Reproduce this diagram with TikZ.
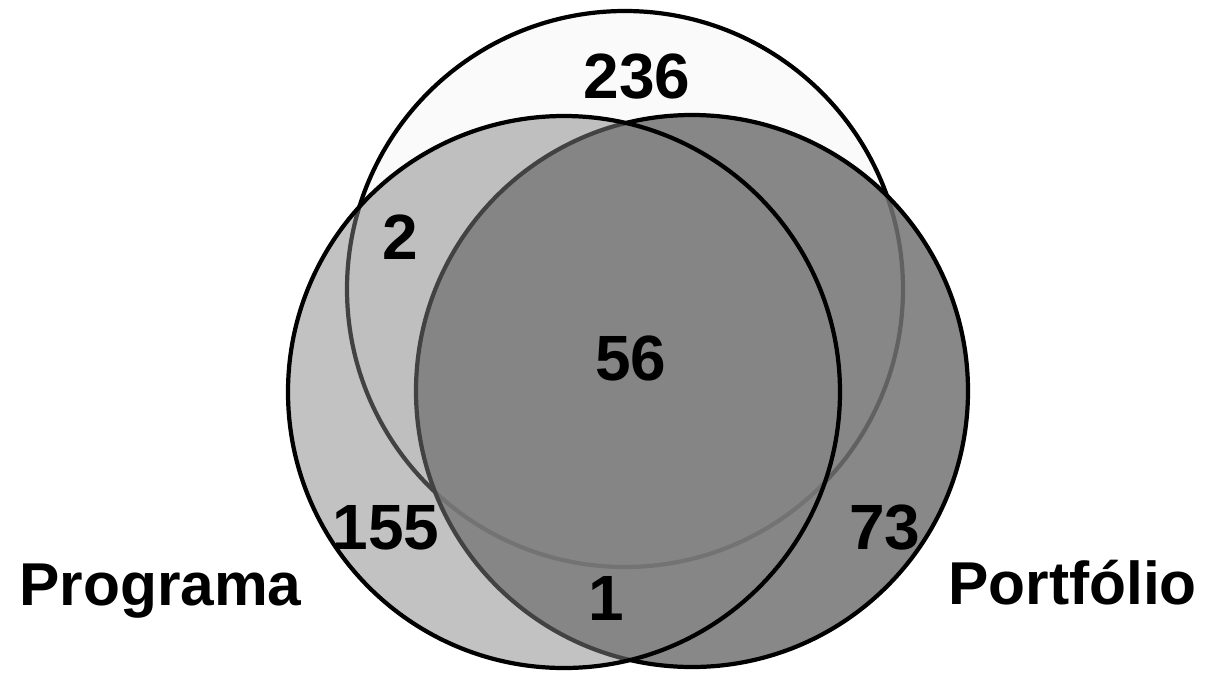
\documentclass[tikz,border=0pt]{standalone}
\usepackage{fontspec}
\setmainfont{Liberation Sans}
\begin{document}
\begin{tikzpicture}[x=0.025cm, y=-0.025cm,
  setline/.style={draw=black, line width=3pt},
  count/.style={font=\fontsize{45.5}{46}\selectfont\bfseries, inner sep=0pt},
  setname/.style={font=\fontsize{43}{44}\selectfont\bfseries, inner sep=0pt, anchor=base west}
]
  \useasboundingbox (0,0) rectangle (1206,673);

  % the three sets
  \path[setline, fill=gray!4] (625,289) circle [radius=278];
  \path[fill=black!55, fill opacity=0.85] (692,391) circle [radius=276];
  \draw[setline] (692,391) circle [radius=276];
  \path[fill=black!48, fill opacity=0.5] (564,392) circle [radius=276];
  \draw[setline] (564,392) circle [radius=276];

  % counts
  \node[count] (onlytop) at (637,77) {236};
  \node[count] (topprog) at (400,237) {2};
  \node[count] (all) at (631,358) {56};
  \node[count] (onlyprog) at (386,528) {155};
  \node[count] (onlyport) at (885,528) {73};
  \node[count] (progport) at (606,598) {1};

  % set names
  \node[setname] (prog) at (19,605) {Programa};
  \node[setname] (port) at (948,604) {Portfólio};
\end{tikzpicture}
\end{document}
